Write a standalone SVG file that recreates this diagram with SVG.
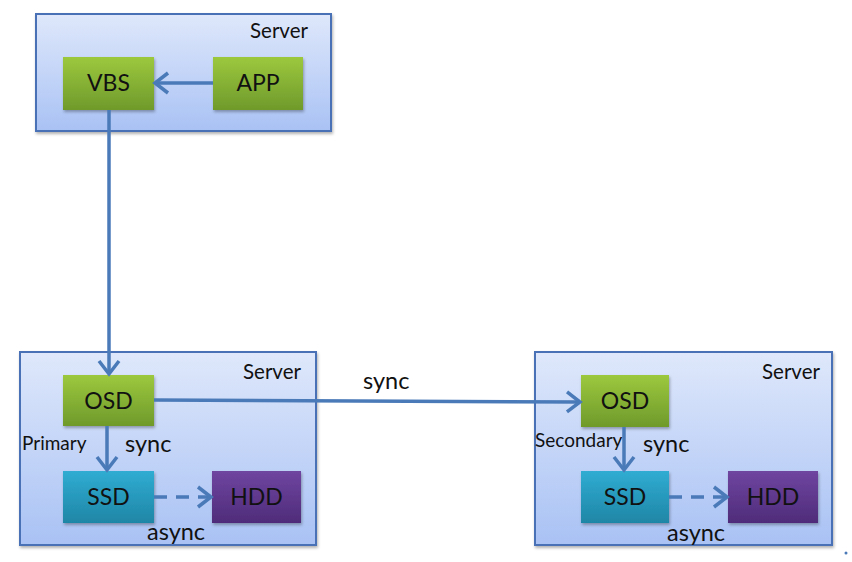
<svg xmlns="http://www.w3.org/2000/svg" width="852" height="562" viewBox="0 0 852 562">
<defs>
<linearGradient id="gServer" x1="0" y1="0" x2="0" y2="1"><stop offset="0" stop-color="#dfe8fb"/><stop offset="1" stop-color="#a9c2f4"/></linearGradient>
<linearGradient id="gGreen" x1="0" y1="0" x2="0" y2="1"><stop offset="0" stop-color="#9cc83e"/><stop offset="1" stop-color="#6f9a2b"/></linearGradient>
<linearGradient id="gSSD" x1="0" y1="0" x2="0" y2="1"><stop offset="0" stop-color="#30acd2"/><stop offset="1" stop-color="#1f86a6"/></linearGradient>
<linearGradient id="gHDD" x1="0" y1="0" x2="0" y2="1"><stop offset="0" stop-color="#6f45a0"/><stop offset="1" stop-color="#4f2c7a"/></linearGradient>
<filter id="sh" x="-10%" y="-10%" width="125%" height="130%"><feDropShadow dx="1" dy="2" stdDeviation="1.5" flood-color="#000" flood-opacity="0.3"/></filter>
<marker id="arr" viewBox="0 0 20 24" refX="16" refY="12" markerWidth="20" markerHeight="24" markerUnits="userSpaceOnUse" orient="auto"><path d="M3,2 L16,12 L3,22" fill="none" stroke="#4a7ab8" stroke-width="3.5"/></marker>
</defs>
<style>
.server{fill:url(#gServer);stroke:#4a72b6;stroke-width:2;filter:url(#sh)}
.green{fill:url(#gGreen);filter:url(#sh)}
.ssd{fill:url(#gSSD);filter:url(#sh)}
.hdd{fill:url(#gHDD);filter:url(#sh)}
.lbl{font-family:Lato,"Open Sans","Liberation Sans",sans-serif;font-size:23px;fill:#111;text-anchor:middle}
.srv{font-family:Lato,"Open Sans","Liberation Sans",sans-serif;font-size:20.5px;fill:#111}
.ann{font-family:Lato,"Open Sans","Liberation Sans",sans-serif;font-size:23.5px;fill:#111}
.small{font-family:Lato,"Open Sans","Liberation Sans",sans-serif;font-size:19px;fill:#111}
.conn{stroke:#4a7ab8;stroke-width:3.5;fill:none}
</style>
<g id="server-top"><rect class="server" x="36" y="14" width="295" height="117"/><text class="srv" x="250" y="38">Server</text></g>
<g id="server-left"><rect class="server" x="20" y="352" width="296" height="193"/><text class="srv" x="243" y="379">Server</text></g>
<g id="server-right"><rect class="server" x="535" y="352" width="297" height="193"/><text class="srv" x="762" y="379">Server</text></g>
<g id="vbs"><rect class="green" x="63" y="57" width="91" height="53"/><text class="lbl" x="108.5" y="91">VBS</text></g>
<g id="app"><rect class="green" x="213" y="57" width="90" height="53"/><text class="lbl" x="258" y="91">APP</text></g>
<g id="osd-primary"><rect class="green" x="63" y="375" width="91" height="51"/><text class="lbl" x="108.5" y="409">OSD</text></g>
<g id="ssd-left"><rect class="ssd" x="63" y="471" width="91" height="52"/><text class="lbl" x="108.5" y="505">SSD</text></g>
<g id="hdd-left"><rect class="hdd" x="212" y="471" width="89" height="52"/><text class="lbl" x="256.5" y="505">HDD</text></g>
<g id="osd-secondary"><rect class="green" x="581" y="375" width="88" height="52"/><text class="lbl" x="625" y="409">OSD</text></g>
<g id="ssd-right"><rect class="ssd" x="581" y="471" width="88" height="52"/><text class="lbl" x="625" y="505">SSD</text></g>
<g id="hdd-right"><rect class="hdd" x="728" y="471" width="90" height="52"/><text class="lbl" x="773" y="505">HDD</text></g>
<g id="connectors">
<line class="conn" x1="213" y1="83" x2="155" y2="83" marker-end="url(#arr)"/>
<line class="conn" x1="109" y1="110" x2="109" y2="374" marker-end="url(#arr)"/>
<line class="conn" x1="154" y1="400" x2="580" y2="402" marker-end="url(#arr)"/>
<line class="conn" x1="107" y1="426" x2="107" y2="470" marker-end="url(#arr)"/>
<line class="conn" x1="624" y1="427" x2="624" y2="470" marker-end="url(#arr)"/>
<line class="conn" x1="154" y1="497" x2="211" y2="497" stroke-dasharray="13,9" marker-end="url(#arr)"/>
<line class="conn" x1="669" y1="497" x2="727" y2="497" stroke-dasharray="13,9" marker-end="url(#arr)"/>
<text class="ann" x="363" y="389">sync</text>
<text class="small" x="22" y="450">Primary</text>
<text class="ann" x="125" y="452">sync</text>
<text class="ann" x="147" y="540">async</text>
<text class="small" x="535" y="447">Secondary</text>
<text class="ann" x="643" y="452">sync</text>
<text class="ann" x="667" y="541">async</text>
</g>
<circle cx="846" cy="553" r="1.5" fill="#4a7ab8"/>
</svg>
